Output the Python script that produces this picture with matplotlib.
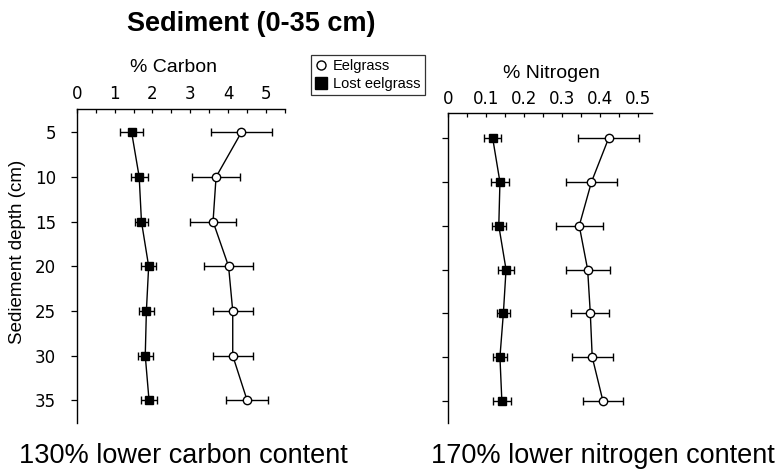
import matplotlib
matplotlib.use("Agg")
import matplotlib.pyplot as plt
from matplotlib.lines import Line2D

# data
depth = [5, 10, 15, 20, 25, 30, 35]

carbon_eel = [4.35, 3.68, 3.60, 4.01, 4.12, 4.12, 4.50]
carbon_eel_err = [0.80, 0.63, 0.60, 0.65, 0.53, 0.53, 0.56]
carbon_lost = [1.45, 1.65, 1.71, 1.90, 1.84, 1.81, 1.91]
carbon_lost_err = [0.31, 0.22, 0.18, 0.20, 0.20, 0.20, 0.20]

nitrogen_eel = [0.422, 0.377, 0.345, 0.367, 0.374, 0.379, 0.407]
nitrogen_eel_err = [0.080, 0.067, 0.061, 0.058, 0.050, 0.054, 0.052]
nitrogen_lost = [0.118, 0.137, 0.134, 0.153, 0.146, 0.137, 0.142]
nitrogen_lost_err = [0.022, 0.023, 0.018, 0.020, 0.018, 0.019, 0.023]

carbon_ticks = [0, 1, 2, 3, 4, 5]
nitrogen_ticks = [0, 0.1, 0.2, 0.3, 0.4, 0.5]
nitrogen_ticklabels = ["0", "0.1", "0.2", "0.3", "0.4", "0.5"]

plt.rcParams['font.family'] = ['Liberation Sans', 'DejaVu Sans']

W, H = 781, 476
fig = plt.figure(figsize=(W / 100, H / 100), dpi=100)


def px_axes(x0, x1, y0, y1):
    return fig.add_axes([x0 / W, 1 - y1 / H, (x1 - x0) / W, (y1 - y0) / H])


def style_axis(ax, xlim, ylim, ticks, labels, minor, show_ylabels):
    ax.set_xlim(*xlim)
    ax.set_ylim(*ylim)
    for s in ['right', 'bottom']:
        ax.spines[s].set_visible(False)
    for s in ['top', 'left']:
        ax.spines[s].set_linewidth(1.0)
    ax.xaxis.tick_top()
    ax.set_xticks(ticks)
    ax.set_xticklabels(labels, fontfamily='DejaVu Sans', fontsize=12)
    ax.set_xticks(minor, minor=True)
    ax.tick_params(axis='x', which='both', direction='in', length=3, width=0.9, pad=4)
    ax.set_yticks(depth)
    if show_ylabels:
        ax.set_yticklabels([str(d) for d in depth], fontfamily='DejaVu Sans', fontsize=12)
    else:
        ax.set_yticklabels([])
    ax.tick_params(axis='y', direction='out', length=4, width=0.9, pad=11)


def draw(ax, eel, eel_err, lost, lost_err):
    ax.errorbar(eel, depth, xerr=eel_err, color='black', lw=1, elinewidth=1,
                capsize=3, capthick=1, marker='o', ms=6, mfc='white', mec='black',
                mew=1, zorder=3)
    ax.errorbar(lost, depth, xerr=lost_err, color='black', lw=1, elinewidth=1,
                capsize=3, capthick=1, marker='s', ms=6, mfc='black', mec='black',
                zorder=3)


ax1 = px_axes(76.7, 285, 109, 422.7)
draw(ax1, carbon_eel, carbon_eel_err, carbon_lost, carbon_lost_err)
style_axis(ax1, (0, 5.5), (37.5, 2.4), carbon_ticks, [str(t) for t in carbon_ticks],
           [0.5, 1.5, 2.5, 3.5, 4.5, 5.5], True)

ax2 = px_axes(447.7, 651.7, 113.3, 422.7)
draw(ax2, nitrogen_eel, nitrogen_eel_err, nitrogen_lost, nitrogen_lost_err)
style_axis(ax2, (0, 0.535), (37.5, 2.15), nitrogen_ticks, nitrogen_ticklabels,
           [0.05, 0.15, 0.25, 0.35, 0.45], False)

fig.text(251 / W, 1 - 24 / H, "Sediment (0-35 cm)", fontsize=19.5, fontweight='bold',
         ha='center', va='center')
fig.text(174 / W, 1 - 67 / H, "% Carbon", fontsize=14, ha='center', va='center')
fig.text(551 / W, 1 - 73 / H, "% Nitrogen", fontsize=14, ha='center', va='center')
fig.text(18 / W, 1 - 252 / H, "Sediement depth (cm)", fontsize=13.5, rotation=90,
         ha='center', va='center')
fig.text(183 / W, 1 - 456 / H, "130% lower carbon content", fontsize=19.5,
         ha='center', va='center')
fig.text(603 / W, 1 - 456 / H, "170% lower nitrogen content", fontsize=19.5,
         ha='center', va='center')

handles = [
    Line2D([], [], ls='none', marker='o', ms=6.5, mfc='white', mec='black', mew=1),
    Line2D([], [], ls='none', marker='s', ms=9, mfc='black', mec='black'),
]
leg = fig.legend(handles, ["Eelgrass", "Lost eelgrass"], loc='upper left',
                 bbox_to_anchor=(311 / W, 1 - 55 / H), borderaxespad=0,
                 fontsize=10.5, frameon=True, fancybox=False, handlelength=0.8,
                 handletextpad=0.4, borderpad=0.3, labelspacing=0.25)
leg.get_frame().set_edgecolor('black')
leg.get_frame().set_linewidth(0.9)

fig.savefig("out.png", dpi=100)
